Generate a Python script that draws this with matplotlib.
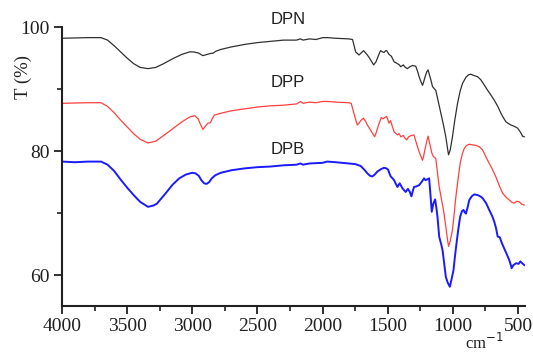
import matplotlib
matplotlib.use("Agg")
import matplotlib.pyplot as plt
from matplotlib.ticker import MultipleLocator

# ---- data (wavenumber cm-1, transmittance %) ----
dpn_x = [4000, 3800, 3700, 3650, 3600, 3550, 3500, 3450, 3400, 3340, 3280, 3220, 3150, 3080, 3020, 2990,
         2950, 2920, 2900, 2870, 2840, 2820, 2780, 2700, 2600, 2500, 2400, 2300, 2200, 2170, 2150, 2100,
         2050, 2000, 1960, 1900, 1800, 1770, 1746, 1720, 1700, 1685, 1660, 1646, 1625, 1608, 1590, 1575,
         1560, 1554, 1540, 1528, 1515, 1508, 1490, 1472, 1451, 1425, 1410, 1400, 1380, 1365, 1349, 1330,
         1310, 1285, 1270, 1259, 1245, 1233, 1222, 1213, 1200, 1190, 1180, 1169, 1156, 1140, 1131, 1110,
         1092, 1070, 1054, 1040, 1033, 1020, 1003, 985, 964, 945, 926, 900, 880, 862, 840, 810, 785, 760,
         733, 710, 682, 655, 631, 610, 592, 570, 554, 530, 503, 480, 465, 452]
dpn_y = [98.2, 98.3, 98.3, 97.9, 97.0, 96.0, 95.0, 94.1, 93.5, 93.3, 93.5, 94.1, 94.9, 95.6, 96.0, 96.0,
         95.8, 95.4, 95.5, 95.7, 95.8, 96.1, 96.4, 96.8, 97.2, 97.5, 97.7, 97.9, 97.9, 98.1, 97.9, 98.1,
         98.0, 98.3, 98.3, 98.2, 98.1, 98.0, 96.0, 95.5, 95.9, 96.2, 95.6, 95.2, 94.5, 93.9, 94.4, 95.2,
         96.0, 96.2, 96.0, 95.9, 96.2, 96.2, 95.6, 95.3, 94.4, 94.1, 93.9, 93.6, 93.9, 93.5, 93.3, 93.6,
         93.8, 93.7, 92.8, 92.0, 91.2, 90.6, 91.3, 92.0, 92.8, 93.1, 92.3, 91.5, 90.4, 90.0, 89.8, 87.8,
         86.1, 84.0, 82.3, 80.3, 79.4, 80.2, 82.3, 85.0, 87.7, 89.6, 90.9, 91.9, 92.3, 92.4, 92.2, 92.0,
         91.5, 90.7, 89.8, 89.1, 88.2, 87.2, 86.1, 85.3, 84.7, 84.4, 84.2, 84.0, 83.7, 83.0, 82.4, 82.3]

dpp_x = [4000, 3800, 3700, 3650, 3600, 3550, 3500, 3450, 3400, 3340, 3280, 3220, 3150, 3080, 3020, 2980,
         2955, 2935, 2918, 2900, 2880, 2860, 2845, 2830, 2780, 2700, 2600, 2500, 2400, 2300, 2200, 2170,
         2150, 2100, 2050, 2000, 1960, 1900, 1800, 1780, 1760, 1745, 1733, 1720, 1708, 1687, 1670, 1656,
         1635, 1618, 1600, 1588, 1575, 1560, 1549, 1535, 1523, 1508, 1490, 1478, 1465, 1451, 1425, 1412,
         1400, 1380, 1368, 1354, 1340, 1320, 1298, 1283, 1267, 1250, 1233, 1224, 1215, 1200, 1190, 1180,
         1169, 1160, 1149, 1131, 1118, 1105, 1088, 1072, 1054, 1043, 1033, 1020, 1003, 990, 977, 960, 944,
         928, 913, 895, 874, 850, 820, 797, 772, 752, 733, 705, 682, 665, 651, 635, 618, 590, 567, 545,
         528, 510, 490, 470, 452]
dpp_y = [87.7, 87.8, 87.8, 87.2, 86.2, 85.0, 83.9, 82.8, 81.9, 81.3, 81.6, 82.5, 83.6, 84.7, 85.5, 85.7,
         85.2, 84.2, 83.5, 84.0, 84.5, 84.6, 85.3, 85.8, 86.1, 86.5, 86.8, 87.1, 87.3, 87.4, 87.6, 88.0,
         87.7, 87.9, 87.8, 88.0, 88.0, 87.9, 87.8, 87.7, 86.1, 85.0, 84.2, 84.5, 84.9, 85.3, 84.8, 84.2,
         83.5, 82.9, 82.3, 83.0, 83.9, 84.8, 85.4, 85.2, 85.4, 85.6, 84.5, 84.9, 84.0, 83.1, 82.6, 82.8,
         82.3, 82.5, 82.1, 81.8, 82.3, 82.5, 82.6, 81.5, 80.4, 79.4, 78.5, 79.2, 80.2, 81.6, 82.4, 81.4,
         80.4, 79.6, 79.1, 78.8, 76.5, 74.2, 72.3, 70.5, 67.8, 66.0, 64.6, 65.5, 67.3, 69.8, 72.6, 75.5, 78.0,
         79.5, 80.4, 80.9, 81.1, 81.0, 80.9, 80.7, 80.2, 79.3, 78.5, 77.4, 76.4, 75.6, 74.8, 74.0, 73.2, 72.5,
         72.1, 71.7, 71.6, 71.9, 71.8, 71.4, 71.3]

dpb_x = [4000, 3900, 3800, 3700, 3650, 3600, 3550, 3500, 3450, 3400, 3340, 3300, 3272, 3240, 3200, 3150,
         3100, 3050, 3000, 2975, 2950, 2930, 2910, 2890, 2870, 2850, 2823, 2780, 2700, 2600, 2500, 2400,
         2300, 2200, 2170, 2150, 2100, 2000, 1964, 1900, 1800, 1750, 1708, 1680, 1656, 1635, 1618, 1600,
         1579, 1550, 1528, 1510, 1497, 1485, 1477, 1463, 1451, 1440, 1425, 1408, 1395, 1387, 1375, 1362,
         1345, 1330, 1318, 1308, 1298, 1280, 1259, 1240, 1221, 1210, 1200, 1182, 1172, 1162, 1150, 1136,
         1125, 1118, 1105, 1090, 1079, 1065, 1054, 1040, 1023, 1010, 995, 985, 972, 958, 944, 930, 918, 908,
         900, 888, 874, 855, 836, 810, 790, 772, 745, 721, 700, 682, 668, 656, 640, 625, 600, 585, 567, 555,
         549, 535, 515, 495, 482, 468, 452]
dpb_y = [78.3, 78.2, 78.3, 78.3, 77.8, 76.8, 75.4, 74.1, 72.9, 71.8, 71.0, 71.2, 71.5, 72.3, 73.3, 74.6,
         75.6, 76.2, 76.5, 76.4, 76.0, 75.3, 74.8, 74.7, 75.0, 75.6, 76.1, 76.5, 76.9, 77.2, 77.4, 77.5,
         77.7, 77.8, 78.0, 77.8, 78.0, 78.1, 78.3, 78.2, 78.0, 77.9, 77.6, 77.0, 76.4, 76.0, 75.9, 76.2,
         76.7, 77.1, 77.3, 77.2, 77.0, 76.3, 75.9, 75.6, 75.3, 74.8, 74.2, 74.8, 74.3, 74.0, 73.7, 73.4,
         73.9, 73.4, 72.7, 73.5, 74.2, 74.3, 74.5, 75.0, 75.6, 75.3, 75.4, 75.6, 73.0, 70.2, 71.5, 72.2,
         70.6, 69.4, 66.2, 65.0, 64.0, 61.6, 59.7, 58.8, 58.1, 59.3, 60.8, 62.8, 65.1, 67.4, 69.4, 70.3, 70.5, 70.1,
         69.9, 70.8, 72.1, 72.7, 73.0, 72.9, 72.7, 72.4, 71.6, 70.5, 69.6, 68.6, 67.5, 66.2, 66.1, 65.2, 64.0, 63.3, 62.4, 61.6,
         61.1, 61.6, 61.9, 61.8, 62.2, 61.9, 61.6]

labels = ["DPN", "DPP", "DPB"]
label_pos_x = [2265, 2265, 2265]
label_pos_y = [101.2, 91.1, 80.3]
x_ticks = [4000, 3500, 3000, 2500, 2000, 1500, 1000, 500]
y_ticks = [60, 80, 100]

fig = plt.figure(figsize=(5.33, 3.52), dpi=100)
ax = fig.add_axes([0.1163, 0.1307, 0.869, 0.7923])

ax.plot(dpn_x, dpn_y, color="#303030", lw=0.9)
ax.plot(dpp_x, dpp_y, color="#ff4040", lw=0.9)
ax.plot(dpb_x, dpb_y, color="#1a1aff", lw=1.4)

for lab, lx, ly in zip(labels, label_pos_x, label_pos_y):
    ax.text(lx, ly, lab, ha="center", va="center", fontsize=12,
            family="Liberation Sans", color="#202020", clip_on=False)

ax.set_xlim(4000, 445)
ax.set_ylim(55, 100)
ax.set_xticks(x_ticks)
ax.set_yticks(y_ticks)
ax.xaxis.set_minor_locator(MultipleLocator(250))
ax.yaxis.set_minor_locator(MultipleLocator(10))

for s in ["top", "right"]:
    ax.spines[s].set_visible(False)
for s in ["left", "bottom"]:
    ax.spines[s].set_linewidth(1.5)
    ax.spines[s].set_color("#202020")

ax.tick_params(which="major", direction="out", length=6, width=1.3, labelsize=14,
               colors="#202020", pad=3)
ax.tick_params(which="minor", direction="out", length=3.5, width=1.2, colors="#202020")
for lab in ax.get_xticklabels() + ax.get_yticklabels():
    lab.set_family("Liberation Serif")

fig.text(0.043, 0.781, "T (%)", rotation=90, ha="center", va="center",
         family="Liberation Serif", fontsize=13.5, color="#202020")
fig.text(0.944, 0.008, "cm$^{-1}$", ha="right", va="baseline", family="Liberation Serif",
         fontsize=12, color="#202020")
fig.savefig("out.png", dpi=100)
